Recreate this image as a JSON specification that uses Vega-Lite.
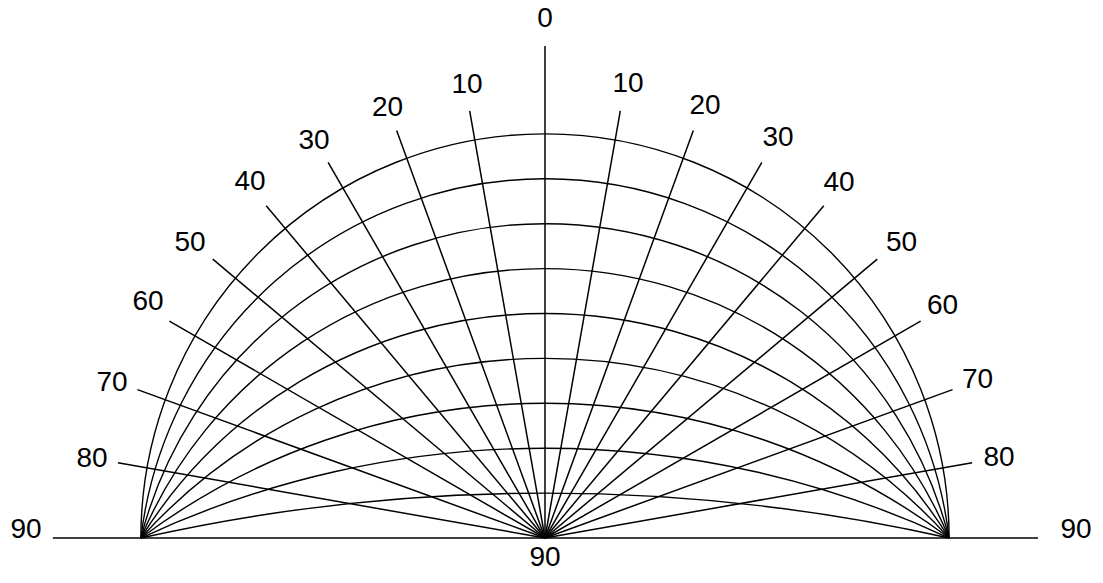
{
  "$schema": "https://vega.github.io/schema/vega-lite/v6.json",
  "width": 1103,
  "height": 583,
  "autosize": {"type": "none"},
  "padding": 0,
  "background": "white",
  "config": {"view": {"stroke": null}},
  "datasets": {
    "arcs": [
      {"k": 1, "cx": 0, "cy": -40, "r": 41, "t0": -12.680, "t1": 12.680},
      {"k": 2, "cx": 0, "cy": -19.25, "r": 21.25, "t0": -25.058, "t1": 25.058},
      {"k": 3, "cx": 0, "cy": -12, "r": 15, "t0": -36.870, "t1": 36.870},
      {"k": 4, "cx": 0, "cy": -8.125, "r": 12.125, "t0": -47.925, "t1": 47.925},
      {"k": 5, "cx": 0, "cy": -5.6, "r": 10.6, "t0": -58.109, "t1": 58.109},
      {"k": 6, "cx": 0, "cy": -3.75, "r": 9.75, "t0": -67.380, "t1": 67.380},
      {"k": 7, "cx": 0, "cy": -2.285714, "r": 9.285714, "t0": -75.750, "t1": 75.750},
      {"k": 8, "cx": 0, "cy": -1.0625, "r": 9.0625, "t0": -83.267, "t1": 83.267},
      {"k": 9, "cx": 0, "cy": 0, "r": 9, "t0": -90, "t1": 90}
    ],
    "rays": [
      {"a": "0", "x0": 0, "y0": 0, "x1": 0, "y1": 10.96},
      {"a": "base", "x0": -10.96, "y0": 0, "x1": 10.98, "y1": 0},
      {"a": "L10", "x0": 0, "y0": 0, "x1": -1.6774, "y1": 9.5133},
      {"a": "L20", "x0": 0, "y0": 0, "x1": -3.3039, "y1": 9.0774},
      {"a": "L30", "x0": 0, "y0": 0, "x1": -4.83, "y1": 8.3658},
      {"a": "L40", "x0": 0, "y0": 0, "x1": -6.2093, "y1": 7.4000},
      {"a": "L50", "x0": 0, "y0": 0, "x1": -7.4000, "y1": 6.2093},
      {"a": "L60", "x0": 0, "y0": 0, "x1": -8.3658, "y1": 4.83},
      {"a": "L70", "x0": 0, "y0": 0, "x1": -9.0774, "y1": 3.3039},
      {"a": "L80", "x0": 0, "y0": 0, "x1": -9.5133, "y1": 1.6774},
      {"a": "R10", "x0": 0, "y0": 0, "x1": 1.6774, "y1": 9.5133},
      {"a": "R20", "x0": 0, "y0": 0, "x1": 3.3039, "y1": 9.0774},
      {"a": "R30", "x0": 0, "y0": 0, "x1": 4.83, "y1": 8.3658},
      {"a": "R40", "x0": 0, "y0": 0, "x1": 6.2093, "y1": 7.4000},
      {"a": "R50", "x0": 0, "y0": 0, "x1": 7.4000, "y1": 6.2093},
      {"a": "R60", "x0": 0, "y0": 0, "x1": 8.3658, "y1": 4.83},
      {"a": "R70", "x0": 0, "y0": 0, "x1": 9.0774, "y1": 3.3039},
      {"a": "R80", "x0": 0, "y0": 0, "x1": 9.5133, "y1": 1.6774}
    ],
    "labels": [
      {"label": "0", "x": 0, "y": 11.559},
      {"label": "10", "x": -1.737, "y": 10.089},
      {"label": "20", "x": -3.508, "y": 9.566},
      {"label": "30", "x": -5.145, "y": 8.842},
      {"label": "40", "x": -6.570, "y": 7.918},
      {"label": "50", "x": -7.906, "y": 6.570},
      {"label": "60", "x": -8.842, "y": 5.245},
      {"label": "70", "x": -9.644, "y": 3.441},
      {"label": "80", "x": -10.089, "y": 1.759},
      {"label": "90", "x": -11.559, "y": 0.178},
      {"label": "10", "x": 1.849, "y": 10.111},
      {"label": "20", "x": 3.563, "y": 9.621},
      {"label": "30", "x": 5.189, "y": 8.909},
      {"label": "40", "x": 6.548, "y": 7.906},
      {"label": "50", "x": 7.940, "y": 6.570},
      {"label": "60", "x": 8.853, "y": 5.167},
      {"label": "70", "x": 9.633, "y": 3.519},
      {"label": "80", "x": 10.111, "y": 1.782},
      {"label": "90", "x": 11.826, "y": 0.178},
      {"label": "90", "x": 0, "y": -0.445}
    ]
  },
  "layer": [
    {
      "data": {"name": "arcs"},
      "mark": {"type": "arc", "fillOpacity": 0, "stroke": "black", "strokeWidth": 1.4},
      "encoding": {
        "x": {"field": "cx", "type": "quantitative", "scale": {"domain": [-12.138, 12.428], "nice": false, "zero": false}, "axis": null},
        "y": {"field": "cy", "type": "quantitative", "scale": {"domain": [-1.0022, 11.982], "nice": false, "zero": false}, "axis": null},
        "theta": {"field": "t0", "type": "quantitative", "stack": null, "scale": {"domain": [-180, 180], "range": [-3.141593, 3.141593], "nice": false, "zero": false}},
        "theta2": {"field": "t1"},
        "radius": {"field": "r", "type": "quantitative", "scale": {"type": "linear", "domain": [0, 9], "range": [0, 404.1], "nice": false, "zero": true}},
        "radius2": {"field": "r"}
      }
    },
    {
      "data": {"name": "rays"},
      "mark": {"type": "rule", "stroke": "black", "strokeWidth": 1.5},
      "encoding": {
        "x": {"field": "x0", "type": "quantitative"},
        "y": {"field": "y0", "type": "quantitative"},
        "x2": {"field": "x1"},
        "y2": {"field": "y1"}
      }
    },
    {
      "data": {"name": "labels"},
      "mark": {"type": "text", "font": "Liberation Sans", "fontSize": 28, "align": "center", "baseline": "middle", "color": "black"},
      "encoding": {
        "x": {"field": "x", "type": "quantitative"},
        "y": {"field": "y", "type": "quantitative"},
        "text": {"field": "label"}
      }
    }
  ]
}
